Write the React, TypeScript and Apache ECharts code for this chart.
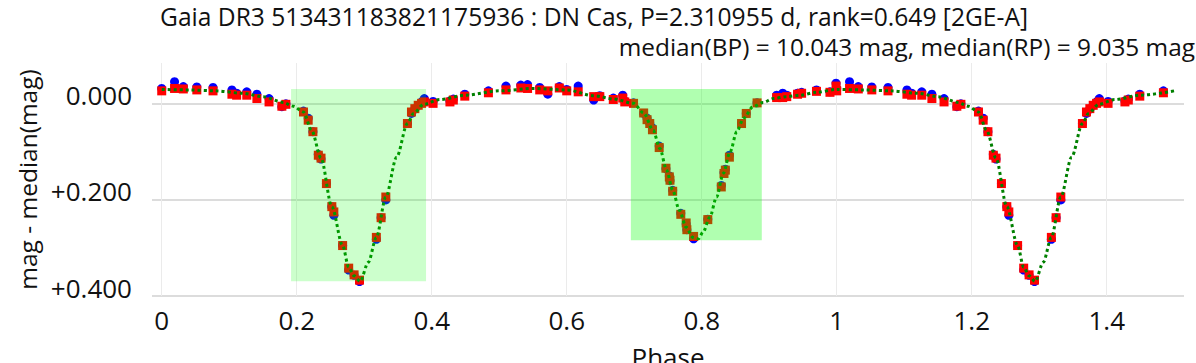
import React, { useEffect, useRef } from "react";
import * as echarts from "echarts";

const TITLE_LINE1 = "Gaia DR3 513431183821175936 : DN Cas, P=2.310955 d, rank=0.649 [2GE-A]";
const TITLE_LINE2 = "median(BP) = 10.043 mag, median(RP) = 9.035 mag";
const X_NAME = "Phase";
const Y_NAME = "mag - median(mag)";

// observed phases (0..1), shared by BP and RP epochs
const phases = [
  0.000, 0.019, 0.032, 0.052, 0.076, 0.104, 0.111, 0.126, 0.141, 0.159, 0.178, 0.184,
  0.210, 0.217, 0.224, 0.232, 0.236, 0.244, 0.252, 0.255, 0.268, 0.277, 0.285, 0.293,
  0.318, 0.325, 0.332, 0.364, 0.370, 0.375, 0.380, 0.385, 0.389, 0.402, 0.427, 0.432, 0.449, 0.484,
  0.510, 0.532, 0.542, 0.560, 0.572, 0.589, 0.600, 0.617, 0.640, 0.649, 0.669, 0.683, 0.686, 0.699,
  0.714, 0.719, 0.723, 0.727, 0.737, 0.747, 0.752, 0.753, 0.757, 0.769, 0.777, 0.778, 0.788,
  0.809, 0.829, 0.833, 0.835, 0.841, 0.859, 0.866, 0.882,
  0.911, 0.920, 0.926, 0.942, 0.948, 0.970, 0.990, 0.999,
];

const rpMag = [
  -0.027, -0.032, -0.031, -0.029, -0.027, -0.020, -0.018, -0.018, -0.011, -0.004, 0.005, 0.001,
  0.017, 0.034, 0.058, 0.107, 0.113, 0.166, 0.214, 0.225, 0.295, 0.342, 0.356, 0.367,
  0.278, 0.237, 0.194, 0.041, 0.017, 0.010, 0.003, -0.001, -0.004, -0.001, -0.004, -0.008, -0.016, -0.023,
  -0.029, -0.033, -0.032, -0.029, -0.027, -0.033, -0.027, -0.025, -0.015, -0.015, -0.009, -0.012, -0.004, -0.001,
  0.019, 0.033, 0.041, 0.054, 0.091, 0.134, 0.152, 0.159, 0.182, 0.230, 0.248, 0.262, 0.276,
  0.241, 0.173, 0.145, 0.138, 0.111, 0.041, 0.020, -0.002,
  -0.013, -0.013, -0.015, -0.020, -0.022, -0.026, -0.024, -0.037,
];

const bpMag = [
  -0.032, -0.046, -0.036, -0.035, -0.034, -0.029, -0.022, -0.025, -0.020, -0.011, 0.006, 0.000,
  0.015, 0.030, 0.058, 0.105, 0.115, 0.166, 0.214, 0.232, 0.295, 0.346, 0.357, 0.370,
  0.282, 0.237, 0.200, 0.041, 0.020, 0.011, 0.003, -0.004, -0.011, -0.005, -0.006, -0.010, -0.020, -0.027,
  -0.037, -0.039, -0.040, -0.034, -0.020, -0.036, -0.030, -0.037, -0.008, -0.017, -0.012, -0.018, -0.006, -0.002,
  0.020, 0.030, 0.040, 0.050, 0.088, 0.135, 0.150, 0.160, 0.180, 0.228, 0.250, 0.262, 0.281,
  0.240, 0.170, 0.143, 0.136, 0.107, 0.041, 0.020, -0.002,
  -0.018, -0.022, -0.018, -0.022, -0.024, -0.029, -0.025, -0.043,
];

// model light curve (0..1)
const modelPhase = [
  0, 0.04, 0.08, 0.12, 0.15, 0.18, 0.195, 0.21, 0.222, 0.236,
  0.252, 0.268, 0.277, 0.285, 0.294, 0.306, 0.318, 0.332, 0.348, 0.364,
  0.373, 0.388, 0.412, 0.45, 0.5, 0.55, 0.6, 0.64, 0.67, 0.699,
  0.714, 0.728, 0.738, 0.748, 0.757, 0.767, 0.777, 0.787, 0.795, 0.802,
  0.812, 0.822, 0.832, 0.842, 0.852, 0.862, 0.876, 0.891, 0.906, 0.926,
  0.946, 0.97, 1.0,
];
const modelMag = [
  -0.030, -0.029, -0.027, -0.022, -0.015, -0.003, 0.005, 0.017, 0.055, 0.113,
  0.214, 0.295, 0.340, 0.358, 0.3695, 0.330, 0.278, 0.194, 0.111, 0.041,
  0.020, 0.001, -0.009, -0.018, -0.027, -0.032, -0.029, -0.017, -0.010, -0.001,
  0.019, 0.055, 0.093, 0.138, 0.180, 0.222, 0.257, 0.278, 0.281, 0.267,
  0.236, 0.194, 0.145, 0.100, 0.058, 0.030, 0.006, -0.003, -0.011, -0.015,
  -0.018, -0.024, -0.030,
];

// eclipse windows (phase start/end, mag top/bottom)
const boxPhaseStart = [0.1916, 0.695];
const boxPhaseEnd = [0.3916, 0.889];
const boxMagTop = [-0.031, -0.031];
const boxMagBottom = [0.3695, 0.284];

const xTicks = [0, 0.2, 0.4, 0.6, 0.8, 1, 1.2, 1.4];
const xTickLabels = ["0", "0.2", "0.4", "0.6", "0.8", "1", "1.2", "1.4"];
const yTicks = [0, 0.2, 0.4];
const yTickLabels = ["0.000", "+0.200", "+0.400"];

const X_MIN = -0.0144;
const X_MAX = 1.5145;
const Y_MIN = -0.085;
const Y_MAX = 0.4;
const FOLD_LIMIT = 0.5;

const BOX_COLORS = ["rgba(0,255,0,0.2)", "rgba(0,255,0,0.31)"];
const FONT = "'Open Sans', 'Noto Sans', sans-serif";
const TEXT_COLOR = "#111";

function foldPoints(ph: number[], mag: number[]) {
  const out: number[][] = ph.map((p, i) => [p, mag[i]]);
  ph.forEach((p, i) => {
    if (p < FOLD_LIMIT) out.push([p + 1, mag[i]]);
  });
  return out;
}

function foldModel(ph: number[], mag: number[]) {
  const out: number[][] = [];
  ph.forEach((p, i) => {
    if (p < 1) out.push([p, mag[i]]);
  });
  ph.forEach((p, i) => {
    if (p <= FOLD_LIMIT) out.push([p + 1, mag[i]]);
  });
  return out;
}

export default function App() {
  const ref = useRef<HTMLDivElement>(null);

  useEffect(() => {
    if (!ref.current) return;
    const chart = echarts.init(ref.current, null, { renderer: "svg" });

    const option: any = {
      animation: false,
      backgroundColor: "#ffffff",
      title: [
        {
          text: TITLE_LINE1,
          left: 160,
          top: 4,
          padding: 0,
          textStyle: { fontFamily: FONT, fontSize: 24.6, fontWeight: "normal", color: TEXT_COLOR },
        },
        {
          text: TITLE_LINE2,
          right: 1,
          top: 34,
          padding: 0,
          textStyle: { fontFamily: FONT, fontSize: 24.4, fontWeight: "normal", color: TEXT_COLOR },
        },
      ],
      grid: {
        left: 152,
        right: 12,
        top: 63,
        bottom: 67,
        containLabel: false,
        outerBoundsMode: "none",
      },
      xAxis: {
        type: "value",
        min: X_MIN,
        max: X_MAX,
        name: X_NAME,
        nameLocation: "middle",
        nameGap: 48,
        nameTextStyle: { fontFamily: FONT, fontSize: 26, color: TEXT_COLOR },
        axisLine: { show: false },
        axisTick: { show: false, customValues: xTicks },
        axisLabel: {
          customValues: xTicks,
          fontFamily: FONT,
          fontSize: 26,
          color: TEXT_COLOR,
          margin: 11,
          formatter: (v: number) => {
            const i = xTicks.findIndex((t) => Math.abs(t - v) < 1e-9);
            return i >= 0 ? xTickLabels[i] : "";
          },
        },
        splitLine: { show: true, lineStyle: { color: "#ebebeb", width: 1 } },
      },
      yAxis: {
        type: "value",
        inverse: true,
        min: Y_MIN,
        max: Y_MAX,
        name: Y_NAME,
        nameLocation: "middle",
        nameGap: 107,
        nameTextStyle: { fontFamily: FONT, fontSize: 24.5, color: TEXT_COLOR },
        axisLine: { show: false },
        axisTick: { show: false, customValues: yTicks },
        axisLabel: {
          customValues: yTicks,
          fontFamily: FONT,
          fontSize: 26,
          color: TEXT_COLOR,
          margin: 20,
          verticalAlign: "bottom",
          lineHeight: 17,
          formatter: (v: number) => {
            const i = yTicks.findIndex((t) => Math.abs(t - v) < 1e-9);
            return i >= 0 ? yTickLabels[i] : "";
          },
        },
        splitLine: { show: true, lineStyle: { color: "#dcdcdc", width: 2 } },
      },
      series: [
        {
          name: "BP",
          type: "scatter",
          z: 2,
          symbol: "circle",
          symbolSize: 9,
          itemStyle: { color: "#0000ff", opacity: 1 },
          data: foldPoints(phases, bpMag),
          silent: true,
        },
        {
          name: "RP",
          type: "scatter",
          z: 3,
          symbol: "rect",
          symbolSize: 9,
          itemStyle: { color: "#ff0000", opacity: 1 },
          data: foldPoints(phases, rpMag),
          silent: true,
        },
        {
          name: "model",
          type: "line",
          z: 4,
          showSymbol: false,
          smooth: 0.3,
          smoothMonotone: "x",
          lineStyle: { color: "#008000", width: 3, type: [3, 3], cap: "butt" },
          data: foldModel(modelPhase, modelMag),
          silent: true,
        },
        {
          name: "eclipses",
          type: "custom",
          z: 5,
          silent: true,
          clip: true,
          encode: { x: [0, 1], y: [2, 3] },
          data: boxPhaseStart.map((x0, i) => [x0, boxPhaseEnd[i], boxMagTop[i], boxMagBottom[i]]),
          renderItem: (params: any, api: any) => {
            const p0 = api.coord([api.value(0), api.value(2)]);
            const p1 = api.coord([api.value(1), api.value(3)]);
            return {
              type: "rect",
              shape: {
                x: Math.min(p0[0], p1[0]),
                y: Math.min(p0[1], p1[1]),
                width: Math.abs(p1[0] - p0[0]),
                height: Math.abs(p1[1] - p0[1]),
              },
              style: { fill: BOX_COLORS[params.dataIndex] },
            };
          },
        },
      ],
    };

    chart.setOption(option);
    return () => {
      chart.dispose();
    };
  }, []);

  return (
    <div
      ref={ref}
      style={{ position: "fixed", left: 0, top: 0, width: 1196, height: 363, background: "#fff" }}
    />
  );
}
